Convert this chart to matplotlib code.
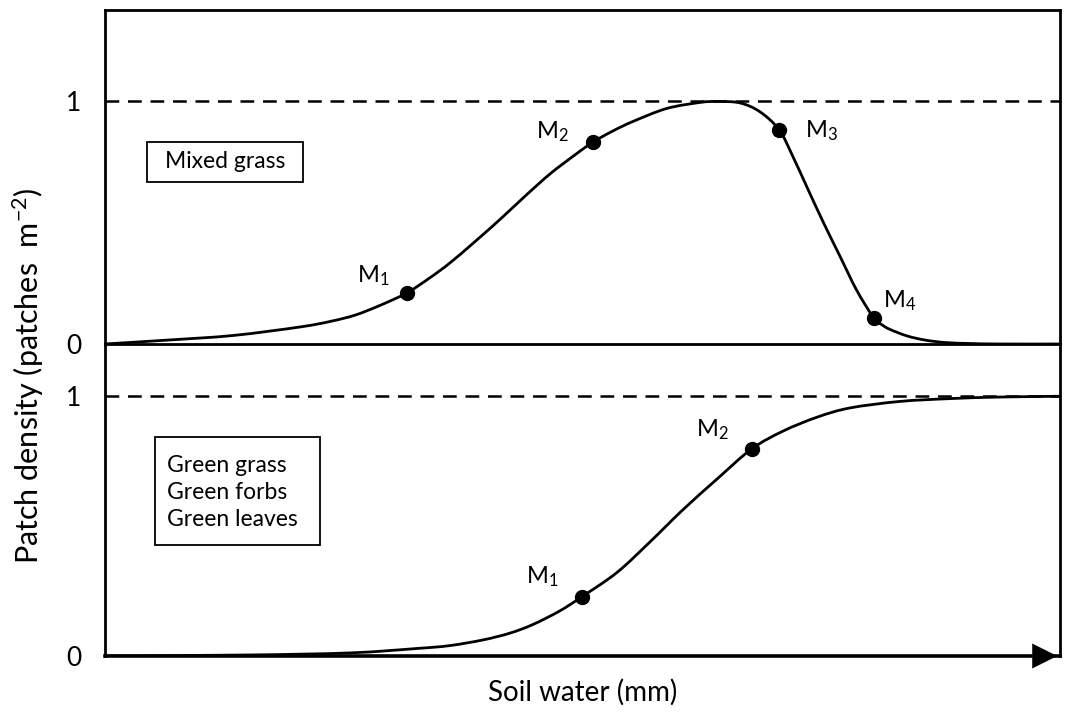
import numpy as np
import matplotlib.pyplot as plt
from matplotlib.path import Path
from matplotlib.patches import PathPatch, Rectangle

plt.rcParams['font.family'] = ['Lato', 'DejaVu Sans']
plt.rcParams['mathtext.fontset'] = 'custom'
plt.rcParams['mathtext.rm'] = 'Lato'
plt.rcParams['mathtext.it'] = 'Lato'

# Kurva atas: mixed grass (naik lalu turun)
x_mixed = [0, 6.5, 13.4, 20.4, 23.6, 26.2, 28.8, 31.6, 34.0, 36.1, 38.7, 41.4, 44.0, 46.6,
           49.2, 51.1, 53.2, 55.3, 58.8, 62.3, 64.1, 66.5, 68.6, 70.6, 72.0, 73.5, 75.2,
           77.0, 78.7, 80.5, 81.4, 82.2, 84.0, 85.9, 88.0, 90.6, 93.7, 100]
y_mixed = [0, 0.016, 0.035, 0.070, 0.093, 0.119, 0.159, 0.210, 0.272, 0.333, 0.420, 0.514,
           0.609, 0.700, 0.778, 0.831, 0.877, 0.916, 0.969, 0.994, 0.998, 0.992, 0.955,
           0.881, 0.774, 0.646, 0.502, 0.358, 0.222, 0.107, 0.078, 0.060, 0.033, 0.016,
           0.006, 0.002, 0, 0]
mx_mixed = [31.6, 51.1, 70.6, 80.5]
my_mixed = [0.210, 0.831, 0.881, 0.107]
lbl_mixed = ['M$_1$', 'M$_2$', 'M$_3$', 'M$_4$']
off_mixed = [(-50, 17), (-57, 10), (26, -1), (9, 17)]

# Kurva bawah: green grass / forbs / leaves (sigmoid)
x_green = [0, 15.2, 25.7, 32.7, 36.1, 39.6, 42.4, 44.8, 47.6, 49.9, 53.6, 57.1, 60.5,
           64.1, 67.7, 71.0, 74.6, 78.0, 83.2, 88.5, 93.7, 100]
y_green = [0, 0.004, 0.012, 0.029, 0.040, 0.062, 0.088, 0.121, 0.173, 0.227, 0.321, 0.440,
           0.562, 0.681, 0.796, 0.865, 0.919, 0.954, 0.979, 0.990, 0.996, 0.999]
mx_green = [49.9, 67.7]
my_green = [0.227, 0.796]
lbl_green = ['M$_1$', 'M$_2$']
off_green = [(-56, 20), (-56, 19)]


def kurva_halus(xs, ys):
    # path Bezier (Catmull-Rom) yang lewat semua titik bacaan
    p = np.column_stack([xs, ys]).astype(float)
    verts = [p[0]]
    codes = [Path.MOVETO]
    n = len(p)
    for i in range(n - 1):
        p0 = p[max(i - 1, 0)]
        p1, p2 = p[i], p[i + 1]
        p3 = p[min(i + 2, n - 1)]
        verts += [p1 + (p2 - p0) / 6, p2 - (p3 - p1) / 6, p2]
        codes += [Path.CURVE4] * 3
    return Path(verts, codes)


W, H = 1070, 713
fig = plt.figure(figsize=(W / 100, H / 100), dpi=100)
L, R = 105 / W, 1060 / W
ax1 = fig.add_axes([L, 1 - 344 / H, R - L, (344 - 10) / H])
ax2 = fig.add_axes([L, 1 - 656 / H, R - L, (656 - 344) / H])
ax2.set_facecolor('none')

for ax, xs, ys, mx, my, lbl, off, ytop in [
        (ax1, x_mixed, y_mixed, mx_mixed, my_mixed, lbl_mixed, off_mixed, (344 - 10) / 243),
        (ax2, x_green, y_green, mx_green, my_green, lbl_green, off_green, (656 - 344) / 260)]:
    ax.set_xlim(0, 100)
    ax.set_ylim(0, ytop)
    ax.add_patch(PathPatch(kurva_halus(xs, ys), fill=False, ec='black', lw=2))
    ax.axhline(1, color='black', lw=1.8, ls=(0, (5.5, 3.5)))
    ax.plot(mx, my, 'o', color='black', ms=10)
    for x, y, t, o in zip(mx, my, lbl, off):
        ax.annotate(t, (x, y), xytext=o, textcoords='offset pixels',
                    ha='left', va='center', fontsize=17)
    ax.set_xticks([])
    ax.set_yticks([0, 1])
    ax.tick_params(axis='y', length=0, pad=17)
    for lab in ax.get_yticklabels():
        lab.set_fontsize(19)
    for s in ax.spines.values():
        s.set_linewidth(2)

ax2.spines['top'].set_visible(False)
ax2.spines['bottom'].set_linewidth(2.6)
ax2.annotate('', xy=(100, 0), xytext=(96, 0), xycoords='data',
             arrowprops=dict(arrowstyle='-|>', mutation_scale=45, color='black', lw=0),
             annotation_clip=False)

# kotak keterangan
fig.patches.append(Rectangle((147 / W, 1 - 182 / H), 156 / W, 40 / H, transform=fig.transFigure,
                             fc='white', ec='black', lw=1.3))
fig.text(165 / W, 1 - 162 / H, 'Mixed grass', fontsize=16.5, va='center', ha='left')
fig.patches.append(Rectangle((155 / W, 1 - 545 / H), 165 / W, 108 / H, transform=fig.transFigure,
                             fc='white', ec='black', lw=1.3))
for yy, t in zip([465, 492.5, 520], ['Green grass', 'Green forbs', 'Green leaves']):
    fig.text(167 / W, 1 - yy / H, t, fontsize=16.5, va='center', ha='left')

fig.text(28 / W, 1 - 376 / H, 'Patch density (patches  m$^{-2}$)', rotation=90,
         ha='center', va='center', fontsize=22)
fig.text((105 + 1060) / 2 / W, 1 - 692 / H, 'Soil water (mm)', ha='center',
         va='center', fontsize=20)

fig.savefig('out.png', dpi=100)
